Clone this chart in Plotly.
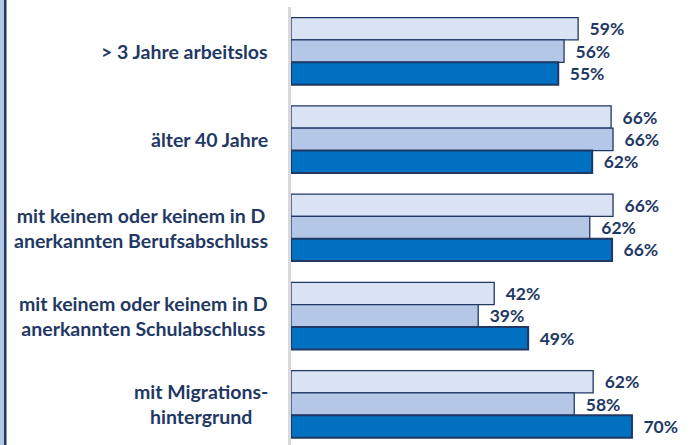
import plotly.graph_objects as go

categories = [
    "> 3 Jahre arbeitslos",
    "älter 40 Jahre",
    "mit keinem oder keinem in D<br>anerkannten Berufsabschluss",
    "mit keinem oder keinem in D<br>anerkannten Schulabschluss",
    "mit Migrations-<br>hintergrund",
]
series_names = ["Serie 1", "Serie 2", "Serie 3"]
values_1 = [59.2, 66.0, 66.4, 41.9, 62.3]
values_2 = [56.3, 66.4, 61.6, 38.6, 58.4]
values_3 = [55.1, 62.1, 66.2, 48.9, 70.3]

fills = ["#dae3f3", "#b4c7e7", "#0070c0"]
navy = "#1f3864"
FONT = "Lato"

W, H = 695, 445
ML, MT = 291, 7
PW = W - ML
PH = H - MT
px_per_unit = 4.85
slot = 88.25

fig = go.Figure()
for name, vals, col, lw in zip(series_names, [values_1, values_2, values_3], fills, [1.3, 1.3, 2]):
    fig.add_trace(go.Bar(
        y=categories, x=vals, name=name, orientation="h",
        marker=dict(color=col, line=dict(color=navy, width=lw)),
        text=vals, texttemplate="\u00a0\u00a0%{x:.0f}%", textposition="outside",
        textfont=dict(family=FONT, size=17.5, color=navy, weight="bold"),
        cliponaxis=False, hoverinfo="skip",
    ))

annotations = []
for c in categories:
    annotations.append(dict(
        xref="paper", yref="y", x=-21 / PW, y=c, text=c,
        xanchor="right", yanchor="middle", align="center", showarrow=False,
        font=dict(family=FONT, size=19.5, color=navy, weight="bold"),
    ))

shapes = [
    dict(type="rect", xref="paper", yref="paper", x0=-ML / PW, x1=-(ML - 4) / PW,
         y0=-0.1, y1=1.1, fillcolor="#b4c7e7", line=dict(width=0), layer="below"),
    dict(type="rect", xref="paper", yref="paper", x0=-(ML - 4) / PW, x1=-(ML - 6.5) / PW,
         y0=-0.1, y1=1.1, fillcolor="#203864", line=dict(width=0), layer="below"),
]

bottom = -0.5 + PH / slot
fig.update_layout(
    width=W, height=H,
    margin=dict(l=ML, r=0, t=MT, b=0, pad=0),
    paper_bgcolor="white", plot_bgcolor="white",
    barmode="group", bargap=1 - 67 / slot, bargroupgap=0,
    showlegend=False,
    xaxis=dict(range=[0, PW / px_per_unit], visible=False, fixedrange=True),
    yaxis=dict(range=[bottom, -0.5], showticklabels=False, showgrid=False,
               showline=True, linecolor="#d9d9d9", linewidth=3, ticks="",
               zeroline=False, fixedrange=True),
    annotations=annotations, shapes=shapes,
)
fig.write_html(
    "out.html",
    config={"displayModeBar": False},
    post_script="document.body.style.margin='0';document.body.style.overflow='hidden';",
)
